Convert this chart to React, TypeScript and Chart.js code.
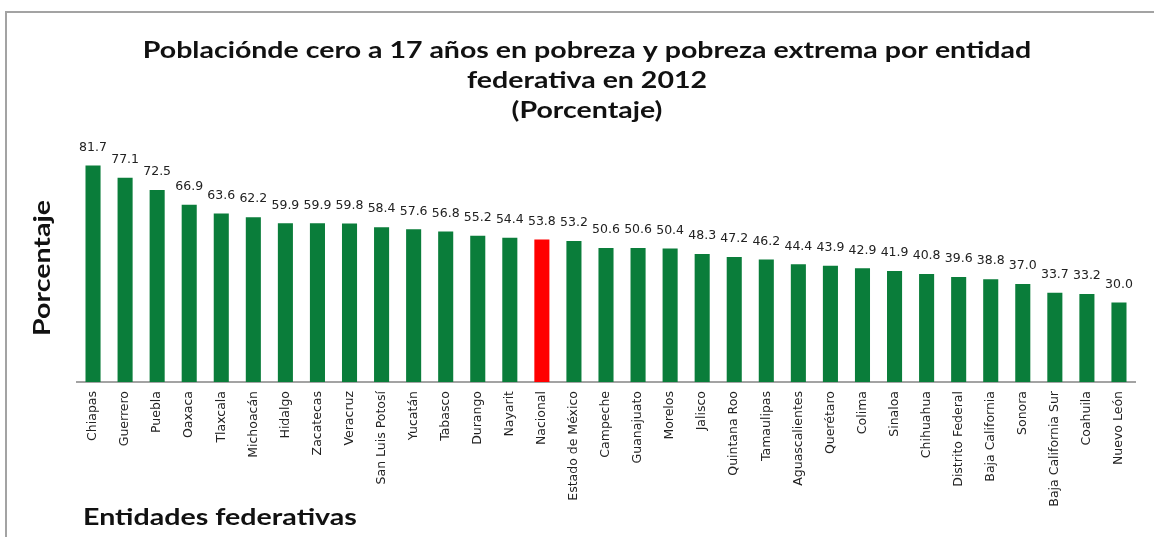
import React, { useEffect, useRef } from "react";
import { Chart, registerables } from "chart.js";

Chart.register(...registerables);

const categories: string[] = [
  "Chiapas", "Guerrero", "Puebla", "Oaxaca", "Tlaxcala", "Michoacán", "Hidalgo",
  "Zacatecas", "Veracruz", "San Luis Potosí", "Yucatán", "Tabasco", "Durango",
  "Nayarit", "Nacional", "Estado de México", "Campeche", "Guanajuato", "Morelos",
  "Jalisco", "Quintana Roo", "Tamaulipas", "Aguascalientes", "Querétaro", "Colima",
  "Sinaloa", "Chihuahua", "Distrito Federal", "Baja California", "Sonora",
  "Baja California Sur", "Coahuila", "Nuevo León",
];

const values: number[] = [
  81.7, 77.1, 72.5, 66.9, 63.6, 62.2, 59.9, 59.9, 59.8, 58.4, 57.6, 56.8, 55.2,
  54.4, 53.8, 53.2, 50.6, 50.6, 50.4, 48.3, 47.2, 46.2, 44.4, 43.9, 42.9, 41.9,
  40.8, 39.6, 38.8, 37.0, 33.7, 33.2, 30.0,
];

const highlighted = "Nacional";

const titleLines: string[] = [
  "Poblaciónde cero a 17 años en pobreza y pobreza extrema por entidad",
  "federativa en 2012",
  "(Porcentaje)",
];
const yAxisTitle = "Porcentaje";
const xAxisTitle = "Entidades federativas";

const GREEN = "#0a7d3a";
const RED = "#ff0000";

export default function App() {
  const ref = useRef<HTMLCanvasElement | null>(null);

  useEffect(() => {
    if (!ref.current) return;

    const decorations = {
      id: "decorations",
      beforeDraw(chart: any) {
        const ctx = chart.ctx;
        ctx.save();
        ctx.fillStyle = "#ffffff";
        ctx.fillRect(0, 0, chart.width, chart.height);
        ctx.strokeStyle = "#a3a3a3";
        ctx.lineWidth = 2;
        ctx.beginPath();
        ctx.moveTo(6, chart.height);
        ctx.lineTo(6, 12);
        ctx.lineTo(chart.width, 12);
        ctx.stroke();
        ctx.restore();
      },
      afterDraw(chart: any) {
        const ctx = chart.ctx;
        ctx.save();
        ctx.fillStyle = "#111111";
        ctx.textAlign = "center";
        ctx.textBaseline = "middle";
        ctx.font = "bold 23px Lato";
        const ys = [51, 81, 111];
        titleLines.forEach((t, i) => {
          ctx.save();
          ctx.translate(587, ys[i]);
          ctx.scale(1.24, 1);
          ctx.fillText(t, 0, 0);
          ctx.restore();
        });
        // y axis title
        ctx.save();
        ctx.translate(43, 268);
        ctx.rotate(-Math.PI / 2);
        ctx.scale(1.24, 1);
        ctx.font = "bold 23px Lato";
        ctx.fillText(yAxisTitle, 0, 0);
        ctx.restore();
        // x axis title
        ctx.save();
        ctx.translate(83, 518);
        ctx.scale(1.3, 1);
        ctx.textAlign = "left";
        ctx.font = "bold 22px Lato";
        ctx.fillText(xAxisTitle, 0, 0);
        ctx.restore();
        // value labels
        const meta = chart.getDatasetMeta(0);
        ctx.textAlign = "center";
        ctx.font = "12.5px 'DejaVu Sans'";
        ctx.fillStyle = "#222222";
        meta.data.forEach((el: any, i: number) => {
          ctx.fillText(values[i].toFixed(1), el.x, el.y - 18);
        });
        ctx.restore();
      },
    };

    const chart = new Chart(ref.current, {
      type: "bar",
      data: {
        labels: categories,
        datasets: [
          {
            data: values,
            backgroundColor: categories.map((c) => (c === highlighted ? RED : GREEN)),
            categoryPercentage: 1,
            barPercentage: 0.47,
          },
        ],
      },
      options: {
        responsive: false,
        animation: false,
        devicePixelRatio: 1,
        layout: { padding: { left: 77, right: 19, top: 117, bottom: 0 } },
        plugins: {
          legend: { display: false },
          title: { display: false },
          tooltip: { enabled: false },
        },
        scales: {
          x: {
            afterFit: (scale: any) => {
              scale.height = 155;
            },
            grid: { display: false, drawTicks: false },
            border: { display: true, color: "#a3a3a3", width: 2 },
            ticks: {
              autoSkip: false,
              maxRotation: 90,
              minRotation: 90,
              padding: 9,
              color: "#222222",
              font: { family: "'DejaVu Sans'", size: 12.5 },
            },
          },
          y: {
            display: false,
            min: 0,
            max: 100,
          },
        },
      },
      plugins: [decorations],
    } as any);

    return () => chart.destroy();
  }, []);

  return (
    <div style={{ position: "fixed", left: 0, top: 0, width: 1154, height: 537 }}>
      <canvas ref={ref} width={1154} height={537} />
    </div>
  );
}
